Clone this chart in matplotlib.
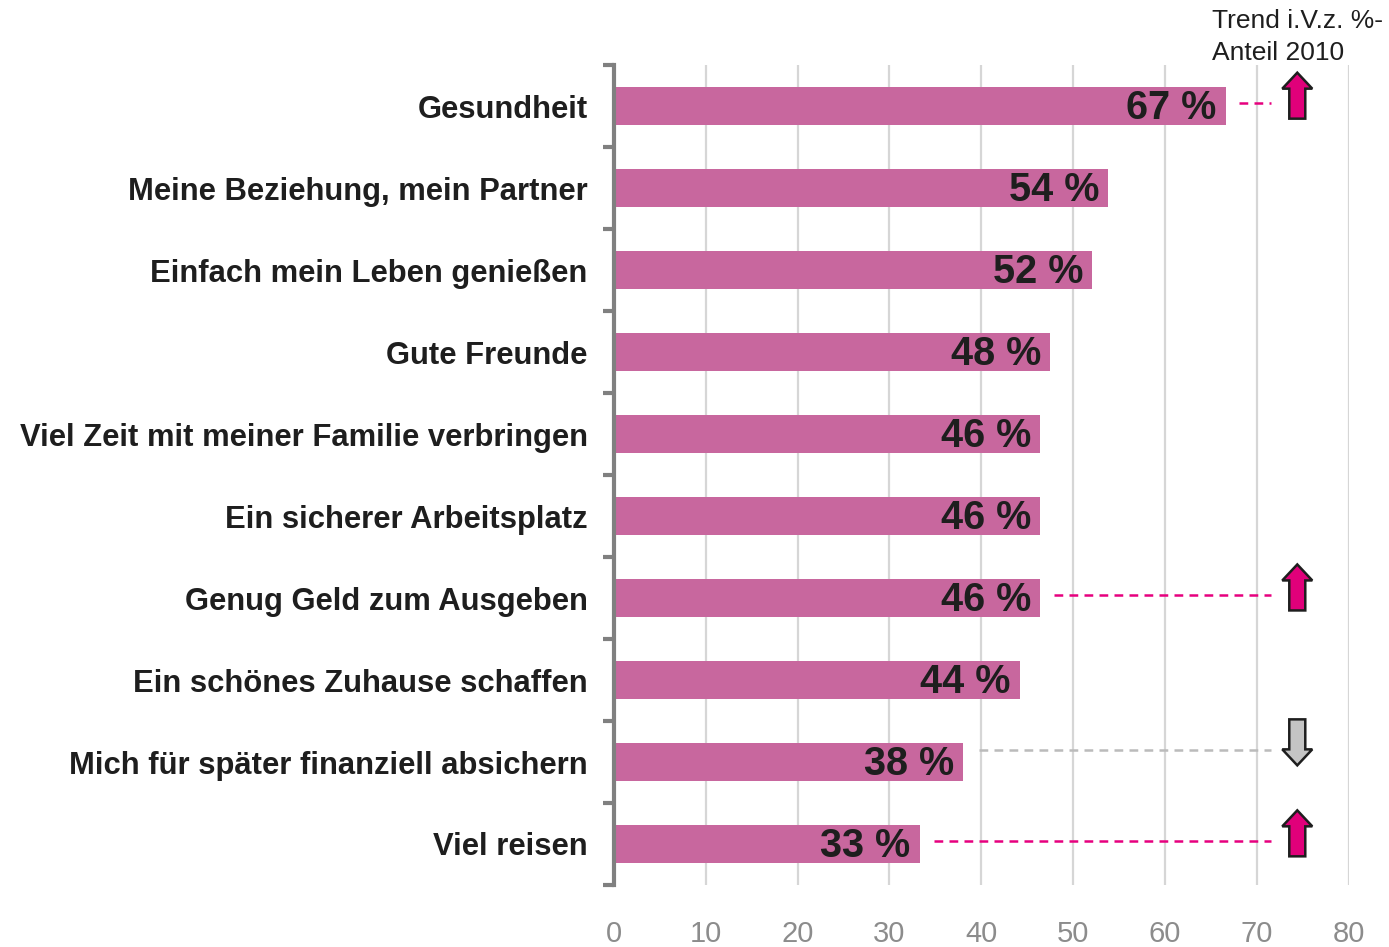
import matplotlib.pyplot as plt
import matplotlib.patches as mpatches
import numpy as np

# data
categories = ["Gesundheit", "Meine Beziehung, mein Partner", "Einfach mein Leben genießen",
              "Gute Freunde", "Viel Zeit mit meiner Familie verbringen", "Ein sicherer Arbeitsplatz",
              "Genug Geld zum Ausgeben", "Ein schönes Zuhause schaffen",
              "Mich für später finanziell absichern", "Viel reisen"]
values = [66.6, 53.8, 52.1, 47.5, 46.4, 46.4, 46.4, 44.2, 38.0, 33.3]
labels = ["67 %", "54 %", "52 %", "48 %", "46 %", "46 %", "46 %", "44 %", "38 %", "33 %"]
trend = ["up", None, None, None, None, None, "up", None, "down", "up"]
xticks = [0, 10, 20, 30, 40, 50, 60, 70, 80]

plt.rcParams['font.family'] = ['Liberation Sans', 'DejaVu Sans']

fig = plt.figure(figsize=(13.89, 9.47), dpi=100)
ax = fig.add_axes([0.442, 0.0655, 0.529, 0.8655])

y = np.arange(len(categories))
ax.barh(y, values, height=0.46, color='#C8679E', zorder=2)

ax.set_xlim(0, 80)
ax.set_ylim(len(categories) - 0.5, -0.5)

# grid
ax.set_xticks(xticks)
ax.set_xticklabels([str(t) for t in xticks], fontsize=21, color='#8C8C8C')
ax.tick_params(axis='x', length=0, pad=25)
ax.grid(axis='x', color='#D6D6D6', linewidth=1.6, zorder=0)

# y axis: ticks at boundaries, labels at centers
ax.set_yticks(np.arange(-0.5, len(categories)))
ax.set_yticklabels([])
ax.tick_params(axis='y', which='major', length=8, width=3, color='#808080')
ax.set_yticks(y, minor=True)
ax.set_yticklabels(categories, minor=True, fontsize=22.3, fontweight='bold', color='#1E1E1E')
ax.tick_params(axis='y', which='minor', length=0, pad=19)

for s in ['top', 'right', 'bottom']:
    ax.spines[s].set_visible(False)
ax.spines['left'].set_color('#808080')
ax.spines['left'].set_linewidth(3)
ax.spines['left'].set_zorder(3)

# value labels
for i, (v, lab) in enumerate(zip(values, labels)):
    ax.text(v - 1.0, i + 0.02, lab, ha='right', va='center', fontsize=28.5,
            fontweight='bold', color='#1E1E1E', zorder=4)

# trend arrows
fig.canvas.draw()
bb = ax.get_window_extent()
px_x = bb.width / 80.0
px_y = bb.height / len(categories)

def arrow(xc, yc, up, fc):
    hw, sw, h, hl = 15, 8, 46, 16
    pts = [(-sw, 0), (sw, 0), (sw, h - hl), (hw, h - hl), (0, h), (-hw, h - hl), (-sw, h - hl)]
    verts = []
    for px, py in pts:
        py = py - h / 2
        if up:
            py = -py
        verts.append((xc + px / px_x, yc + py / px_y))
    ax.add_patch(mpatches.Polygon(verts, closed=True, facecolor=fc, edgecolor='#1E1E1E',
                                  linewidth=1.8, clip_on=False, zorder=5))

arrow_x = 74.4
for i, t in enumerate(trend):
    if t is None:
        continue
    if t == 'up':
        ax.plot([values[i] + 1.5, 71.5], [i - 0.04, i - 0.04], color='#E6007E',
                linewidth=1.8, dashes=(3.5, 2.5), zorder=3)
        arrow(arrow_x, i - 0.13, True, '#E0007A')
    else:
        ax.plot([values[i] + 1.8, 71.5], [i - 0.15, i - 0.15], color='#BBBBBB',
                linewidth=1.8, dashes=(3.5, 2.5), zorder=3)
        arrow(arrow_x, i - 0.24, False, '#C4C4C4')

fig.text(1212 / 1389, 1 - 9 / 947, "Trend i.V.z. %-\nAnteil 2010", ha='left', va='top',
         fontsize=19, color='#1E1E1E', linespacing=1.4)

fig.savefig('out.png', dpi=100)
